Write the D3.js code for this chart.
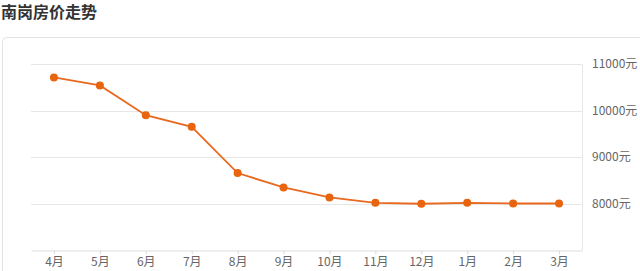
<!DOCTYPE html>
<html>
<head>
<meta charset="utf-8">
<script src="https://cdn.jsdelivr.net/npm/d3@7"></script>
<style>
  body { margin: 0; background: #fff; font-family: "Noto Sans CJK SC", "Noto Sans", sans-serif; }
  svg text { font-family: "Noto Sans CJK SC", "Noto Sans", sans-serif; }
</style>
</head>
<body>
<div id="viz"></div>
<script>
// data
const months = ["4月", "5月", "6月", "7月", "8月", "9月", "10月", "11月", "12月", "1月", "2月", "3月"];
const prices = [10710, 10540, 9900, 9650, 8655, 8345, 8130, 8015, 7995, 8015, 8000, 8000];
const yTicks = [8000, 9000, 10000, 11000];
const title = "南岗房价走势";

const W = 640, H = 271;
const margin = {top: 64, right: 58, bottom: 21, left: 31};
const width = W - margin.left - margin.right,
      height = H - margin.top - margin.bottom;

const root = d3.select("#viz").append("svg")
    .attr("width", W)
    .attr("height", H);

// title
root.append("text")
    .attr("x", 1)
    .attr("y", 18)
    .attr("font-size", 16)
    .attr("font-weight", "bold")
    .attr("fill", "#333")
    .text(title);

// outer card
root.append("rect")
    .attr("x", 2.5).attr("y", 37.5)
    .attr("width", 660).attr("height", 260)
    .attr("rx", 4)
    .attr("fill", "#fff")
    .attr("stroke", "#e3e3e3");

const svg = root.append("g")
    .attr("transform", `translate(${margin.left},${margin.top})`);

// scales
const x = d3.scalePoint()
    .domain(months)
    .range([0, width])
    .padding(0.5);

const y = d3.scaleLinear()
    .domain([7000, 11000])
    .range([height, 0]);

// grid lines
svg.append("g")
    .selectAll("line")
    .data(yTicks)
    .join("line")
    .attr("x1", 0).attr("x2", width)
    .attr("y1", d => Math.round(y(d)) + 0.5)
    .attr("y2", d => Math.round(y(d)) + 0.5)
    .attr("stroke", "#e6e6e6");

// right border of plot
svg.append("line")
    .attr("x1", width + 0.5).attr("x2", width + 0.5)
    .attr("y1", Math.round(y(11000)) + 0.5).attr("y2", height)
    .attr("stroke", "#e6e6e6");

// y axis labels on the right
svg.append("g")
    .selectAll("text")
    .data(yTicks)
    .join("text")
    .attr("x", width + 10)
    .attr("y", d => y(d) + 4)
    .attr("font-size", 12)
    .attr("fill", "#666")
    .text(d => d + "元");

// x axis
const xAxis = svg.append("g")
    .attr("transform", `translate(0,${height + 0.5})`)
    .call(d3.axisBottom(x).tickSize(4).tickSizeOuter(0));
xAxis.select(".domain").attr("stroke", "#dcdcdc");
xAxis.selectAll(".tick line").attr("stroke", "#dcdcdc");
xAxis.selectAll(".tick text")
    .attr("font-size", 12)
    .attr("fill", "#666")
    .attr("dy", "0.85em")
    .attr("y", 5);

// line
const line = d3.line()
    .x((d, i) => x(months[i]))
    .y(d => y(d));

svg.append("path")
    .datum(prices)
    .attr("d", line)
    .attr("fill", "none")
    .attr("stroke", "#e8691f")
    .attr("stroke-width", 1.8);

// points
svg.selectAll(".dot")
    .data(prices)
    .join("circle")
    .attr("class", "dot")
    .attr("cx", (d, i) => x(months[i]))
    .attr("cy", d => y(d))
    .attr("r", 4)
    .attr("fill", "#e8640f");
</script>
</body>
</html>
